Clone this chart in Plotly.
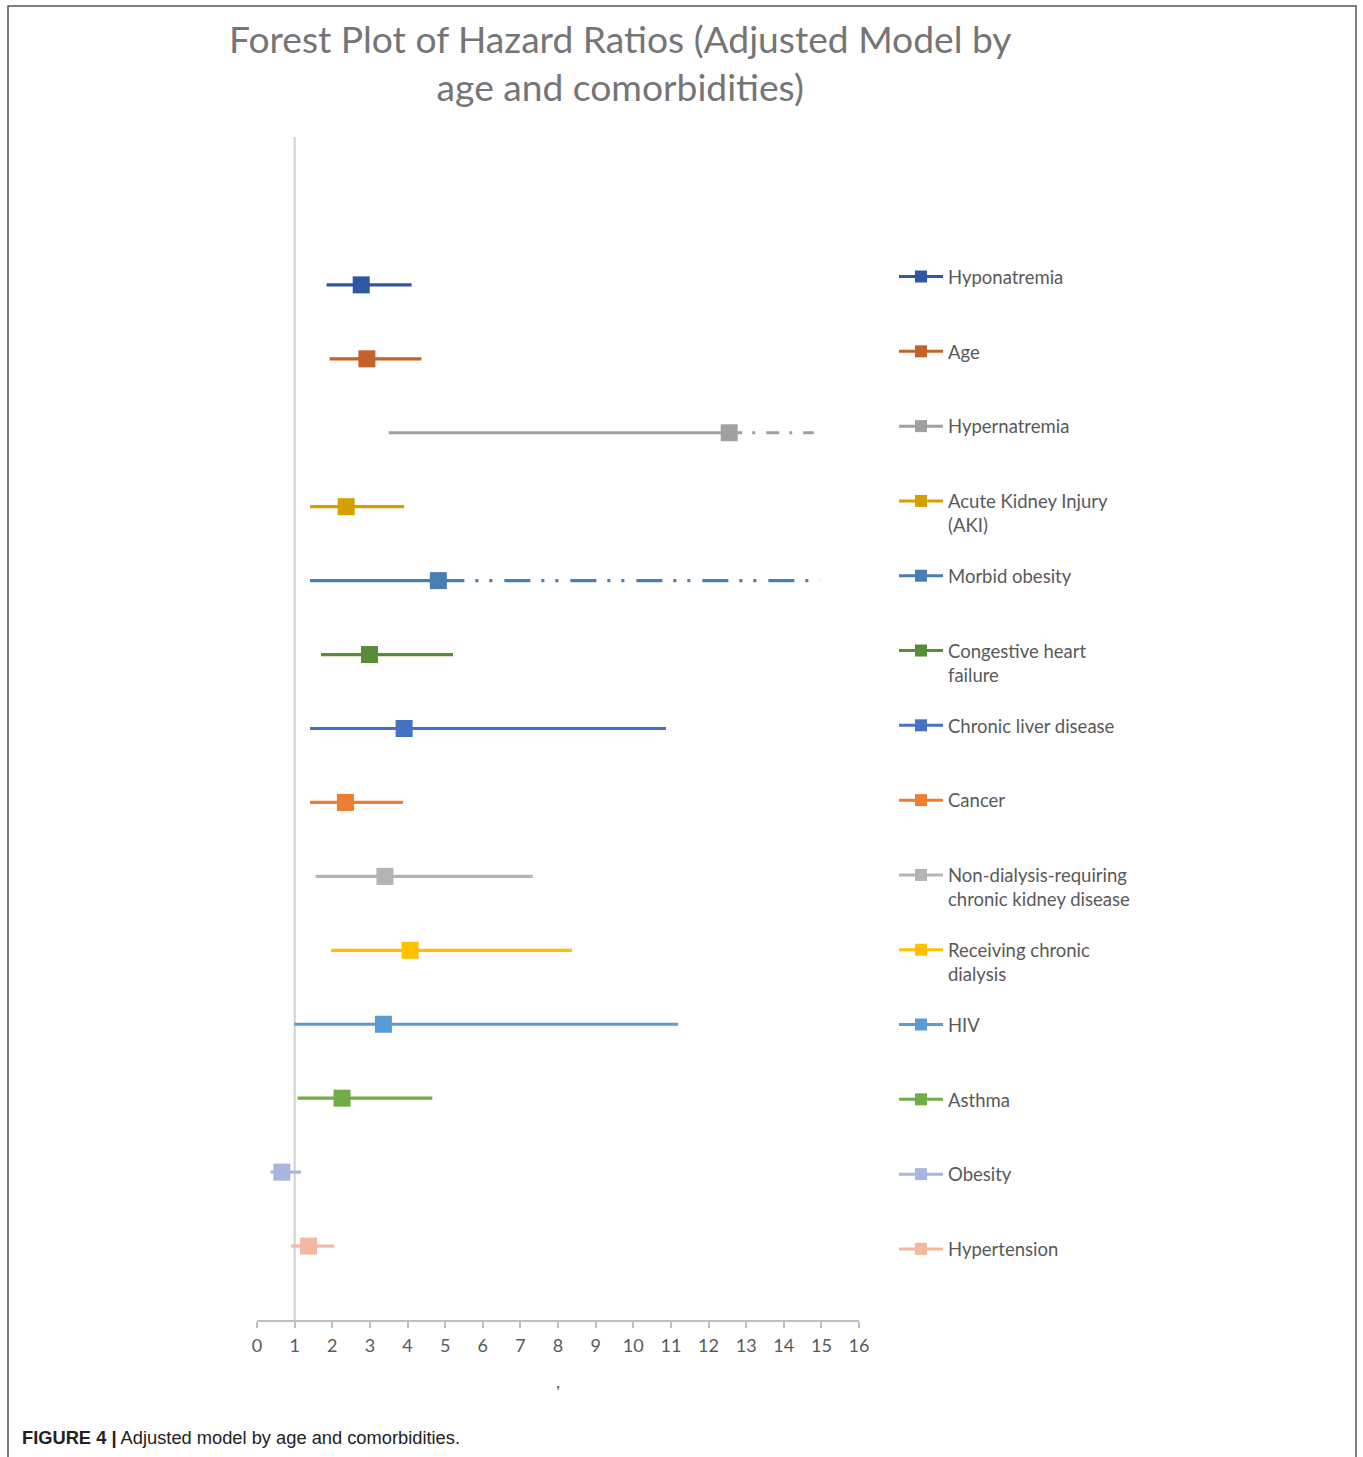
import plotly.graph_objects as go

# ---------------- data ----------------
categories = [
    "Hyponatremia", "Age", "Hypernatremia", "Acute Kidney Injury (AKI)",
    "Morbid obesity", "Congestive heart failure", "Chronic liver disease",
    "Cancer", "Non-dialysis-requiring chronic kidney disease",
    "Receiving chronic dialysis", "HIV", "Asthma", "Obesity", "Hypertension",
]
legend_labels = [
    "Hyponatremia", "Age", "Hypernatremia", "Acute Kidney Injury<br>(AKI)",
    "Morbid obesity", "Congestive heart<br>failure", "Chronic liver disease",
    "Cancer", "Non-dialysis-requiring<br>chronic kidney disease",
    "Receiving chronic<br>dialysis", "HIV", "Asthma", "Obesity", "Hypertension",
]
hazard_ratio = [2.77, 2.92, 12.55, 2.37, 4.82, 2.99, 3.91, 2.35, 3.40, 4.07, 3.36, 2.26, 0.66, 1.37]
ci_lower = [1.85, 1.93, 3.50, 1.41, 1.41, 1.70, 1.41, 1.41, 1.56, 1.97, 0.99, 1.08, 0.36, 0.91]
ci_upper = [4.11, 4.37, 14.80, 3.91, 14.95, 5.21, 10.87, 3.88, 7.33, 8.37, 11.19, 4.66, 1.17, 2.05]
x_ticks = list(range(0, 17))

# ---------------- styles ----------------
colors = ["#2F58A4", "#C5612A", "#A0A0A0", "#D4A000", "#497EB2", "#588C37",
          "#4472C4", "#ED7D31", "#B4B4B4", "#FFC000", "#5B9BD5", "#70AD47",
          "#A9B7E0", "#F3B8A0"]
upper_dash = ["solid", "solid", "13px,10px,3px,11px", "solid",
              "26px,11px,3px,11px,3px,12px", "solid", "solid", "solid", "solid",
              "solid", "solid", "solid", "solid", "solid"]

FONT = "Lato"
GREY = "#595959"

fig = go.Figure()

for i, cat in enumerate(categories):
    c = colors[i]
    # lower CI -> HR
    fig.add_trace(go.Scatter(
        x=[ci_lower[i], hazard_ratio[i]], y=[cat, cat], mode="lines",
        line=dict(color=c, width=3.2), showlegend=False, hoverinfo="skip"))
    # HR -> upper CI
    fig.add_trace(go.Scatter(
        x=[hazard_ratio[i], ci_upper[i]], y=[cat, cat], mode="lines",
        line=dict(color=c, width=3.2, dash=upper_dash[i]), showlegend=False,
        hoverinfo="skip"))
    # point estimate
    fig.add_trace(go.Scatter(
        x=[hazard_ratio[i]], y=[cat], mode="markers",
        marker=dict(symbol="square", size=17, color=c), showlegend=False,
        name=cat))

# legend entries
for i, cat in enumerate(categories):
    lab = legend_labels[i]
    if "<br>" not in lab:
        lab = lab + "<br> "
    fig.add_trace(go.Scatter(
        x=[None], y=[None], mode="lines+markers", name=lab,
        legendgroup=cat,
        line=dict(color=colors[i], width=3),
        marker=dict(symbol="square", size=12, color=colors[i])))

# vertical reference line at HR = 1
fig.add_shape(type="line", xref="x", yref="y domain", x0=1, x1=1, y0=0, y1=1,
              line=dict(color="#D0D0D0", width=2), layer="below")

# outer frame
fig.add_shape(type="rect", xref="paper", yref="paper",
              x0=(8 - 257) / 602, x1=(1356 - 257) / 602,
              y0=(1320 - 1500) / 1183, y1=(1320 - 6) / 1183,
              line=dict(color="#555555", width=1.5), layer="below")

# title
fig.add_annotation(
    xref="paper", yref="paper", x=(620 - 257) / 602, y=(1320 - 62) / 1183,
    text="Forest Plot of Hazard Ratios (Adjusted Model by<br>age and comorbidities)",
    showarrow=False, xanchor="center", yanchor="middle",
    font=dict(family=FONT, size=37.2, color="#757575"))

# caption
fig.add_annotation(
    xref="paper", yref="paper", x=(20 - 257) / 602, y=(1320 - 1437) / 1183,
    text="<b>FIGURE 4 |</b> Adjusted model by age and comorbidities.",
    showarrow=False, xanchor="left", yanchor="middle",
    font=dict(family="Liberation Sans", size=18.3, color="#222222"))

fig.update_layout(
    width=1363, height=1457,
    margin=dict(l=257, r=504, t=137, b=137),
    paper_bgcolor="white", plot_bgcolor="white",
    font=dict(family=FONT, color=GREY, size=18),
    showlegend=True,
    legend=dict(
        x=(894 - 257) / 602, xanchor="left",
        y=(1320 - 258) / 1183, yanchor="top",
        font=dict(family=FONT, size=18.5, color=GREY),
        tracegroupgap=23.7, itemwidth=44, valign="top",
        bgcolor="rgba(0,0,0,0)", borderwidth=0,
    ),
    xaxis=dict(
        range=[0, 16], tickmode="array", tickvals=x_ticks,
        ticktext=[str(v) for v in x_ticks],
        showgrid=False, zeroline=False,
        showline=True, linecolor="#BFBFBF", linewidth=1.5,
        ticks="outside", ticklen=6, tickcolor="#BFBFBF", tickwidth=1.5,
        ticklabelstandoff=3,
        tickfont=dict(family=FONT, size=18, color=GREY),
        title=dict(text=",", font=dict(family=FONT, size=18, color=GREY), standoff=20),
    ),
    yaxis=dict(
        type="category", categoryorder="array", categoryarray=categories,
        range=[14, -2], showticklabels=False, showgrid=False, zeroline=False,
        showline=False, ticks="",
    ),
)

fig.write_html("out.html")
